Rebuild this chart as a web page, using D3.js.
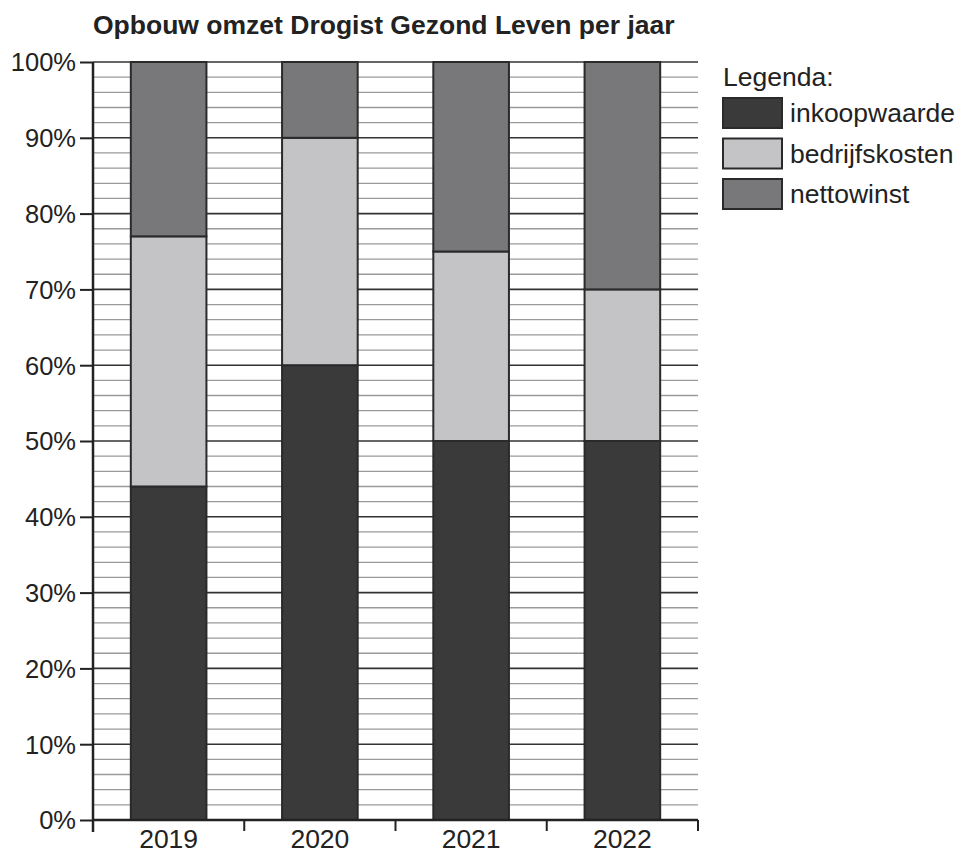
<!DOCTYPE html>
<html>
<head>
<meta charset="utf-8">
<script src="https://cdn.jsdelivr.net/npm/d3@7"></script>
<style>
  body { margin: 0; background: #fff; }
  text { font-family: "Liberation Sans", Arial, sans-serif; fill: #222; }
</style>
</head>
<body>
<svg id="chart" width="962" height="854"></svg>
<script>
const years = ["2019", "2020", "2021", "2022"];
const inkoopwaarde = [44, 60, 50, 50];
const bedrijfskosten = [33, 30, 25, 20];
const nettowinst = [23, 10, 25, 30];
const seriesNames = ["inkoopwaarde", "bedrijfskosten", "nettowinst"];
const yTicks = [0, 10, 20, 30, 40, 50, 60, 70, 80, 90, 100];

const svg = d3.select("#chart");
const margin = { top: 62, right: 264, bottom: 34, left: 93 };
const width = +svg.attr("width") - margin.left - margin.right;
const height = +svg.attr("height") - margin.top - margin.bottom;
const colors = { inkoopwaarde: "#3a3a3a", bedrijfskosten: "#c4c4c6", nettowinst: "#78787a" };

const rows = years.map((y, i) => ({
  year: y,
  inkoopwaarde: inkoopwaarde[i],
  bedrijfskosten: bedrijfskosten[i],
  nettowinst: nettowinst[i]
}));
const stacked = d3.stack().keys(seriesNames)(rows);

const x = d3.scaleBand().domain(years).range([0, width]).paddingInner(0.5).paddingOuter(0.25);
const y = d3.scaleLinear().domain([0, 100]).range([height, 0]);

const g = svg.append("g").attr("transform", "translate(" + margin.left + "," + margin.top + ")");

// grid every 2%, darker on the tens
g.selectAll("line.grid").data(d3.range(2, 101, 2))
  .join("line")
  .attr("class", "grid")
  .attr("x1", 0).attr("x2", width)
  .attr("y1", d => y(d)).attr("y2", d => y(d))
  .attr("stroke", d => d % 10 === 0 ? "#333" : "#9a9a9a")
  .attr("stroke-width", d => d % 10 === 0 ? 1.6 : 1.3);

g.selectAll("g.layer").data(stacked)
  .join("g")
  .attr("class", "layer")
  .attr("fill", d => colors[d.key])
  .selectAll("rect").data(d => d)
  .join("rect")
  .attr("x", d => x(d.data.year))
  .attr("width", x.bandwidth())
  .attr("y", d => y(d[1]))
  .attr("height", d => y(d[0]) - y(d[1]))
  .attr("stroke", "#2a2a2a")
  .attr("stroke-width", 2);

// y axis
const yAxis = g.append("g")
  .call(d3.axisLeft(y).tickValues(yTicks).tickFormat(d => d + "%").tickSize(13).tickPadding(4));
yAxis.select(".domain").remove();
yAxis.selectAll(".tick line").attr("stroke", "#222").attr("stroke-width", 2);
yAxis.selectAll(".tick text").style("font-size", "25.5px").attr("dy", "0.35em").attr("fill", "#222");
g.append("line")
  .attr("x1", 0).attr("x2", 0).attr("y1", 0).attr("y2", height + 12)
  .attr("stroke", "#222").attr("stroke-width", 2.5);

// x axis with ticks on band boundaries
g.append("line")
  .attr("x1", 0).attr("x2", width).attr("y1", height).attr("y2", height)
  .attr("stroke", "#222").attr("stroke-width", 2.5);
const bounds = years.map(d => x(d) - x.step() * x.paddingOuter()).concat([width]);
g.selectAll("line.xtick").data(bounds)
  .join("line")
  .attr("class", "xtick")
  .attr("x1", d => d).attr("x2", d => d)
  .attr("y1", height).attr("y2", height + 11)
  .attr("stroke", "#222").attr("stroke-width", 2);
g.selectAll("text.xlabel").data(years)
  .join("text")
  .attr("class", "xlabel")
  .attr("x", d => x(d) + x.bandwidth() / 2)
  .attr("y", height + 28)
  .attr("text-anchor", "middle")
  .style("font-size", "26.5px")
  .text(d => d);

// title
svg.append("text")
  .attr("x", 93).attr("y", 34)
  .style("font-size", "26.5px").style("font-weight", "bold")
  .text("Opbouw omzet Drogist Gezond Leven per jaar");

// legend
const legend = svg.append("g").attr("transform", "translate(722,0)");
legend.append("text").attr("x", 1).attr("y", 86).style("font-size", "26.5px").text("Legenda:");
const item = legend.selectAll("g.item").data(seriesNames)
  .join("g")
  .attr("class", "item")
  .attr("transform", (d, i) => "translate(0," + (97 + i * 40.5) + ")");
item.append("rect")
  .attr("x", 1).attr("y", 1).attr("width", 59).attr("height", 30)
  .attr("fill", d => colors[d]).attr("stroke", "#2a2a2a").attr("stroke-width", 2);
item.append("text")
  .attr("x", 68).attr("y", 25)
  .style("font-size", "26.5px")
  .text(d => d);
</script>
</body>
</html>
